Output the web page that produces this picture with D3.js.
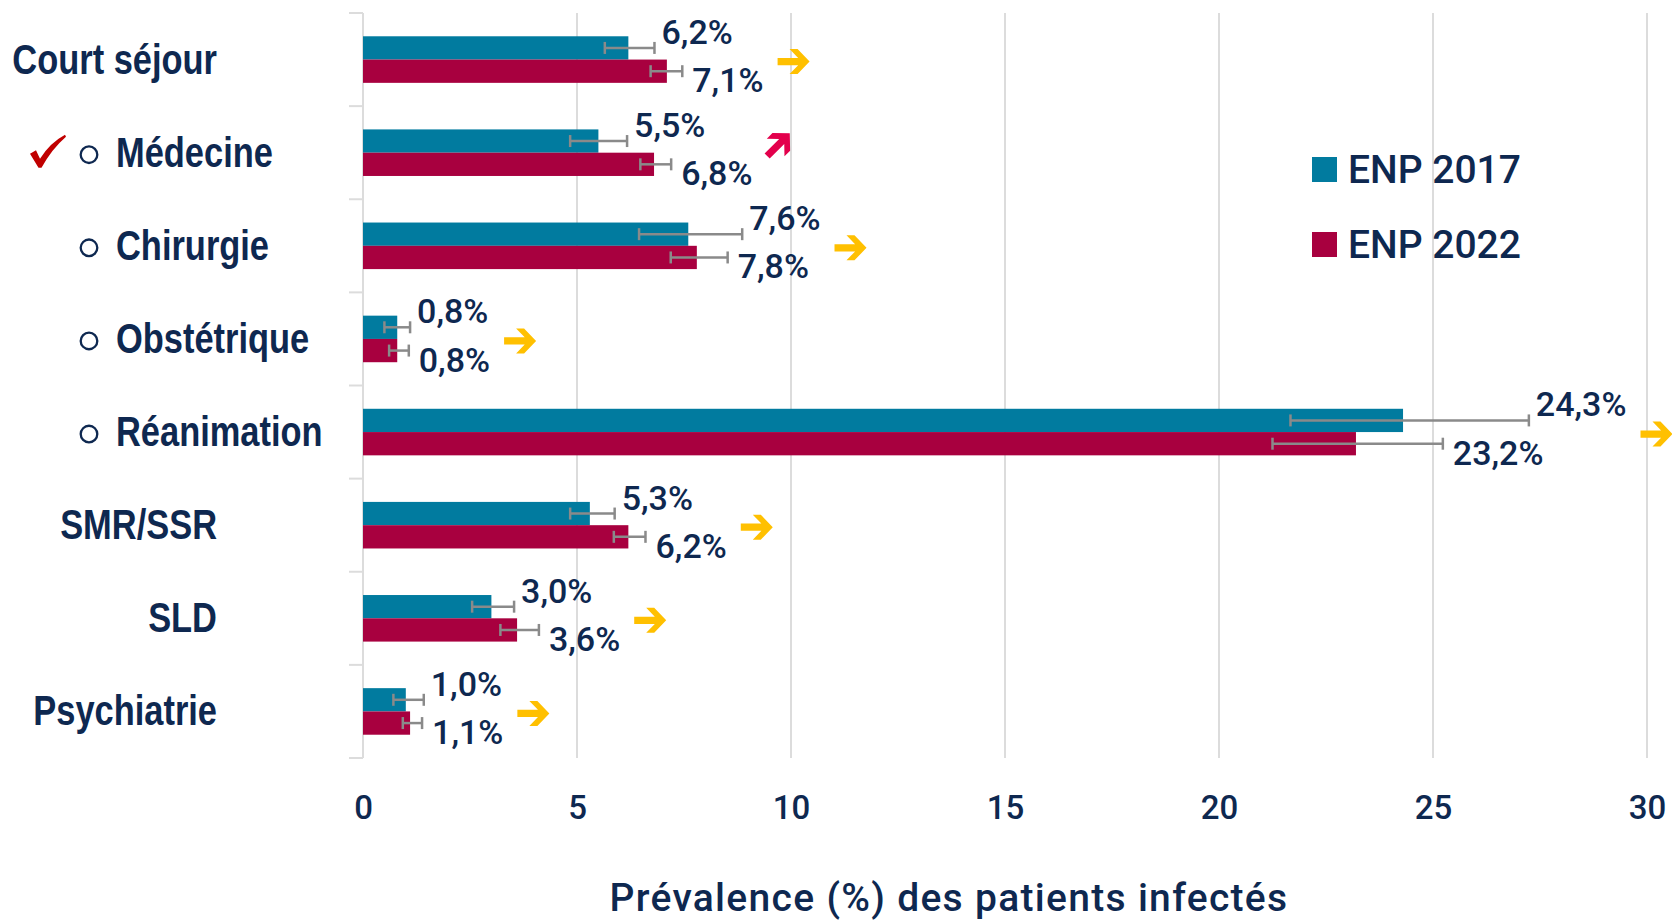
<!DOCTYPE html>
<html>
<head>
<meta charset="utf-8">
<script src="https://cdn.jsdelivr.net/npm/d3@7"></script>
<style>
  html, body { margin: 0; padding: 0; background: #ffffff; }
  svg { display: block; }
</style>
</head>
<body>
<svg id="chart" width="1672" height="920"></svg>
<script>
// ---------- data ----------
const categories = ["Court séjour", "Médecine", "Chirurgie", "Obstétrique", "Réanimation", "SMR/SSR", "SLD", "Psychiatrie"];
const isSubCategory = [false, true, true, true, true, false, false, false];
const checked = [false, true, false, false, false, false, false, false];
const seriesNames = ["ENP 2017", "ENP 2022"];
const prev2017 = [6.2, 5.5, 7.6, 0.8, 24.3, 5.3, 3.0, 1.0];
const prev2022 = [7.1, 6.8, 7.8, 0.8, 23.2, 6.2, 3.6, 1.1];
const ciLow2017 = [5.65, 4.84, 6.45, 0.50, 21.67, 4.84, 2.55, 0.71];
const ciHigh2017 = [6.81, 6.17, 8.86, 1.10, 27.24, 5.88, 3.53, 1.42];
const ciLow2022 = [6.72, 6.48, 7.19, 0.61, 21.25, 5.86, 3.21, 0.93];
const ciHigh2022 = [7.46, 7.20, 8.52, 1.07, 25.23, 6.60, 4.11, 1.38];
const trend = ["stable", "up", "stable", "stable", "stable", "stable", "stable", "stable"];
const xTicks = [0, 5, 10, 15, 20, 25, 30];
const xTitle = "Prévalence (%) des patients infectés";

// ---------- styles ----------
const colors = ["#017b9f", "#a8003f"];
const navy = "#0e2850";
const grid = "#dcdcdc";
const errColor = "#8a8a8a";
const trendColors = { stable: "#ffc000", up: "#e3004c" };
const numFont = "Roboto, 'DejaVu Sans', sans-serif";
const catFont = "'Liberation Sans', Arial, sans-serif";
const catSqueeze = 0.82;

const W = 1672, H = 920;
const margin = { top: 13, right: 25, bottom: 162, left: 363 };
const svg = d3.select("#chart");

const x = d3.scaleLinear().domain([0, 30]).range([margin.left, W - margin.right]);
const y = d3.scaleBand().domain(categories).range([margin.top, H - margin.bottom])
  .paddingInner(0.5).paddingOuter(0.25);
const step = y.step();
const ySub = d3.scaleBand().domain(seriesNames).range([0, y.bandwidth()]);

const rows = categories.map((c, i) => ({
  cat: c, i,
  vals: [
    { s: seriesNames[0], k: 0, v: prev2017[i], lo: ciLow2017[i], hi: ciHigh2017[i] },
    { s: seriesNames[1], k: 1, v: prev2022[i], lo: ciLow2022[i], hi: ciHigh2022[i] }
  ]
}));

// gridlines
const y0 = margin.top, y1 = H - margin.bottom;
svg.append("g").selectAll("line").data(xTicks.filter(t => t > 0)).join("line")
  .attr("x1", d => x(d)).attr("x2", d => x(d))
  .attr("y1", y0).attr("y2", y1)
  .attr("stroke", grid).attr("stroke-width", 2);

// y axis line + boundary ticks
svg.append("line").attr("x1", x(0)).attr("x2", x(0)).attr("y1", y0).attr("y2", y1)
  .attr("stroke", grid).attr("stroke-width", 2);
svg.append("g").selectAll("line").data(d3.range(categories.length + 1)).join("line")
  .attr("x1", x(0) - 14).attr("x2", x(0))
  .attr("y1", d => y0 + d * step).attr("y2", d => y0 + d * step)
  .attr("stroke", grid).attr("stroke-width", 2);

// x axis labels
const xAxis = svg.append("g").attr("transform", `translate(0,${y1})`)
  .call(d3.axisBottom(x).tickValues(xTicks).tickSize(0).tickPadding(38).tickFormat(d3.format("d")));
xAxis.select(".domain").remove();
xAxis.selectAll("text").attr("fill", navy).attr("font-family", numFont)
  .attr("font-size", 33).attr("font-weight", 500);

// bars
const groups = svg.append("g").selectAll("g").data(rows).join("g")
  .attr("transform", d => `translate(0,${y(d.cat)})`);
groups.selectAll("rect").data(d => d.vals).join("rect")
  .attr("x", x(0)).attr("y", d => ySub(d.s))
  .attr("width", d => x(d.v) - x(0)).attr("height", ySub.bandwidth())
  .attr("fill", d => colors[d.k]);

// error bars
const eb = groups.selectAll("g.err").data(d => d.vals).join("g").attr("class", "err")
  .attr("stroke", errColor).attr("stroke-width", 2.5);
const mid = d => ySub(d.s) + ySub.bandwidth() / 2;
eb.append("line").attr("x1", d => x(d.lo)).attr("x2", d => x(d.hi))
  .attr("y1", mid).attr("y2", mid);
eb.append("line").attr("x1", d => x(d.lo)).attr("x2", d => x(d.lo))
  .attr("y1", d => mid(d) - 6).attr("y2", d => mid(d) + 6);
eb.append("line").attr("x1", d => x(d.hi)).attr("x2", d => x(d.hi))
  .attr("y1", d => mid(d) - 6).attr("y2", d => mid(d) + 6);

// value labels
const fmt = v => v.toFixed(1).replace(".", ",") + "%";
groups.selectAll("text.val").data(d => d.vals).join("text").attr("class", "val")
  .attr("x", d => x(d.hi) + (d.k === 0 ? 7 : 10))
  .attr("y", d => mid(d) + (d.k === 0 ? -4 : 21))
  .attr("fill", navy).attr("font-family", numFont).attr("font-size", 34).attr("font-weight", 500)
  .text(d => fmt(d.v));

// trend arrows, placed after the rightmost label of each category
const arrowPath = "M-16,-3.6 L4.6,-3.6 L-4,-12.5 L4,-12.5 L16,0 L4,12.5 L-4,12.5 L4.6,3.6 L-16,3.6 Z";
groups.each(function(d) {
  const g = d3.select(this);
  let maxRight = 0;
  g.selectAll("text.val").each(function() {
    const bb = this.getBBox();
    maxRight = Math.max(maxRight, bb.x + bb.width);
  });
  const up = trend[d.i] === "up";
  const cx = maxRight + 14 + (up ? 12 : 16);
  const cy = y.bandwidth() / 2 + (up ? -8 : 2);
  g.append("path").attr("d", arrowPath)
    .attr("fill", trendColors[trend[d.i]])
    .attr("transform", `translate(${cx},${cy})` + (up ? " rotate(-45)" : ""));
});

// category labels
const catG = svg.append("g");
rows.forEach(d => {
  const base = y(d.cat) + y.bandwidth() / 2 + 14;
  if (isSubCategory[d.i]) {
    catG.append("circle").attr("cx", 89).attr("cy", base - 12).attr("r", 8.3)
      .attr("fill", "none").attr("stroke", navy).attr("stroke-width", 2.3);
    catG.append("text").attr("transform", `translate(116,${base}) scale(${catSqueeze},1)`)
      .attr("fill", navy).attr("font-family", catFont).attr("font-size", 42).attr("font-weight", 700)
      .text(d.cat);
  } else {
    catG.append("text").attr("transform", `translate(217,${base}) scale(${catSqueeze},1)`)
      .attr("text-anchor", "end")
      .attr("fill", navy).attr("font-family", catFont).attr("font-size", 42).attr("font-weight", 700)
      .text(d.cat);
  }
  if (checked[d.i]) {
    catG.append("path")
      .attr("d", "M0,19 L6,15.5 L10,24 Q20,8 35,0 L36,2 Q22,14 11.5,33 L8.5,33 Z")
      .attr("fill", "#c00000")
      .attr("transform", `translate(30,${base - 32})`);
  }
});

// legend
const legend = svg.append("g");
seriesNames.forEach((s, k) => {
  const ly = 157 + k * 75;
  legend.append("rect").attr("x", 1312).attr("y", ly).attr("width", 25).attr("height", 25)
    .attr("fill", colors[k]);
  legend.append("text").attr("x", 1348).attr("y", ly + 26)
    .attr("fill", navy).attr("font-family", numFont).attr("font-size", 39).attr("font-weight", 500)
    .text(s);
});

// x axis title
svg.append("text").attr("x", (x(0) + x(30)) / 2 - 56).attr("y", 911).attr("text-anchor", "middle")
  .attr("fill", navy).attr("font-family", numFont).attr("font-size", 39).attr("font-weight", 500)
  .attr("letter-spacing", 1.3)
  .text(xTitle);
</script>
</body>
</html>
